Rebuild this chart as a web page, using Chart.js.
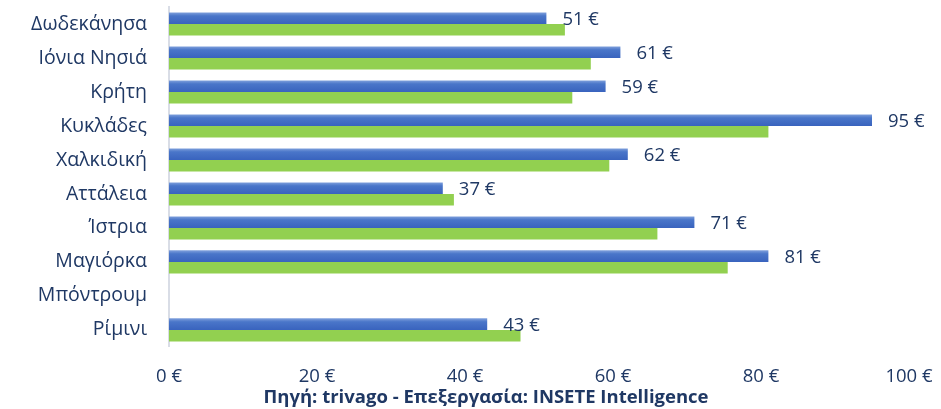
<!DOCTYPE html>
<html>
<head>
<meta charset="utf-8">
<script src="https://cdn.jsdelivr.net/npm/chart.js@4"></script>
<style>
html,body{margin:0;padding:0;background:#fff;}
#wrap{width:941px;height:409px;position:relative;}
</style>
</head>
<body>
<div id="wrap"><canvas id="c"></canvas></div>
<script>
const categories = ["Δωδεκάνησα","Ιόνια Νησιά","Κρήτη","Κυκλάδες","Χαλκιδική","Αττάλεια","Ίστρια","Μαγιόρκα","Μπόντρουμ","Ρίμινι"];
const blueValues = [51, 61, 59, 95, 62, 37, 71, 81, null, 43];
const greenValues = [53.5, 57, 54.5, 81, 59.5, 38.5, 66, 75.5, null, 47.5];
const xTicks = [0, 20, 40, 60, 80, 100];
const sourceText = "Πηγή: trivago - Επεξεργασία: INSETE Intelligence";

const navy = "#1F3864";
const FONT = "'Open Sans', sans-serif";

const labelPlugin = {
  id: "barLabels",
  afterDatasetsDraw(chart) {
    const ctx = chart.ctx;
    const meta = chart.getDatasetMeta(0);
    ctx.save();
    ctx.font = "18.5px " + FONT;
    ctx.fillStyle = navy;
    ctx.textAlign = "left";
    ctx.textBaseline = "middle";
    meta.data.forEach((bar, i) => {
      const v = blueValues[i];
      if (v == null) return;
      ctx.fillText(v + " €", bar.x + 16, bar.y + 2);
    });
    ctx.restore();
  }
};

function blueFill(context) {
  const chart = context.chart;
  const ys = chart.scales && chart.scales.y;
  if (!ys || context.dataIndex === undefined || !chart.chartArea) return "#4472C4";
  const center = ys.getPixelForValue(context.dataIndex);
  const h = (ys.height / categories.length) * 0.68 / 2;
  const g = chart.ctx.createLinearGradient(0, center - h, 0, center);
  g.addColorStop(0, "#7FA0DC");
  g.addColorStop(0.3, "#4A76C9");
  g.addColorStop(1, "#3963BE");
  return g;
}

new Chart(document.getElementById("c"), {
  type: "bar",
  data: {
    labels: categories,
    datasets: [
      { data: blueValues, backgroundColor: blueFill, categoryPercentage: 0.68, barPercentage: 1 },
      { data: greenValues, backgroundColor: "#92D050", categoryPercentage: 0.68, barPercentage: 1 }
    ]
  },
  options: {
    indexAxis: "y",
    responsive: true,
    maintainAspectRatio: false,
    animation: false,
    layout: { padding: { left: 31, right: 0, top: 7, bottom: 0 } },
    plugins: {
      legend: { display: false },
      tooltip: { enabled: false },
      title: {
        display: true,
        position: "bottom",
        text: sourceText,
        color: navy,
        font: { family: FONT, size: 18.5, weight: "bold" },
        padding: { top: 3, bottom: 0 }
      }
    },
    scales: {
      x: {
        min: 0, max: 100,
        afterBuildTicks(scale) { scale.ticks = xTicks.map(v => ({ value: v })); },
        afterFit(scale) { scale.paddingLeft = 0; scale.paddingRight = 32; scale.height = 36.9; },
        grid: { display: false, drawTicks: false },
        border: { display: false },
        ticks: {
          color: navy,
          font: { family: FONT, size: 18.5 },
          padding: 19,
          maxRotation: 0,
          callback: v => v + " €"
        }
      },
      y: {
        grid: { display: false, drawTicks: false },
        border: { display: true, color: "#D9DDE6", width: 2 },
        afterFit(scale) { scale.width = 138; scale.paddingTop = 0; scale.paddingBottom = 0; },
        ticks: {
          color: navy,
          font: { family: FONT, size: 19.5 },
          padding: 22
        }
      }
    }
  },
  plugins: [labelPlugin]
});
</script>
</body>
</html>
